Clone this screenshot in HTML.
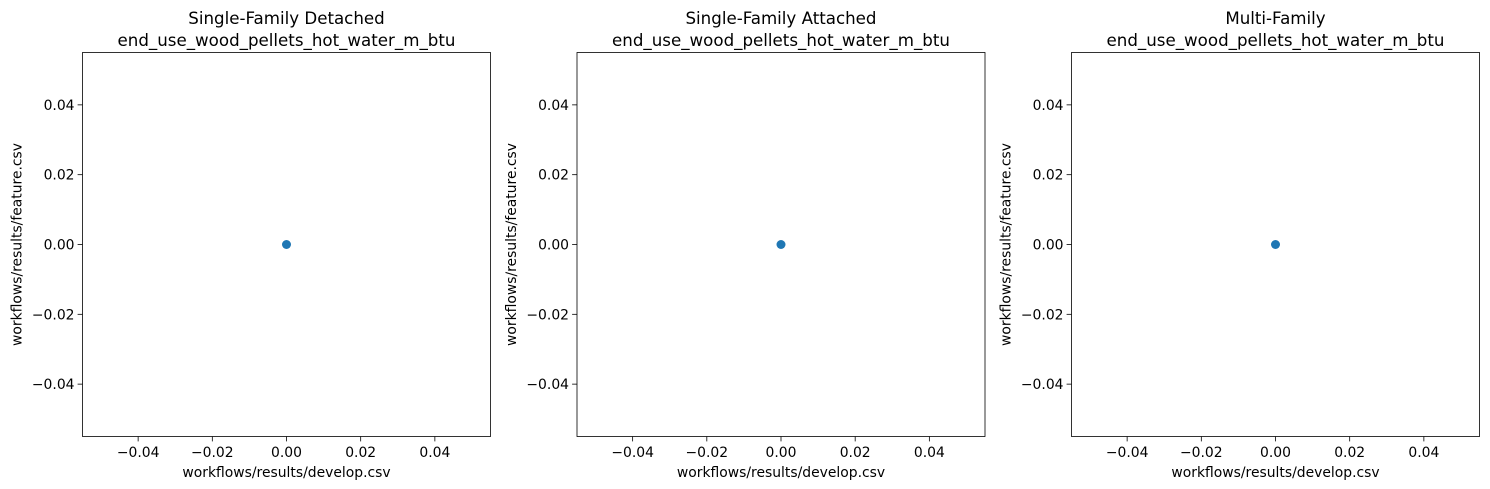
<!DOCTYPE html>
<html><head><meta charset="utf-8"><style>
html,body{margin:0;padding:0;background:#fff;}
svg{display:block;font-family:"DejaVu Sans","Liberation Sans",sans-serif;}
</style></head><body>
<svg id="chart" width="1490" height="489" xmlns="http://www.w3.org/2000/svg"></svg>
<script>
const panelTitles = ["Single-Family Detached","Single-Family Attached","Multi-Family"];
const metricName = "end_use_wood_pellets_hot_water_m_btu";
const xValues = [[0],[0],[0]];
const yValues = [[0],[0],[0]];
const xTicks = [-0.04,-0.02,0.00,0.02,0.04];
const yTicks = [-0.04,-0.02,0.00,0.02,0.04];
const xTickLabels = ["\u22120.04","\u22120.02","0.00","0.02","0.04"];
const yTickLabels = ["\u22120.04","\u22120.02","0.00","0.02","0.04"];
const xDomain = [-0.055,0.055];
const yDomain = [-0.055,0.055];

const NS="http://www.w3.org/2000/svg";
const svgRoot=document.getElementById('chart');
function mk(tag,attrs,parent){const e=document.createElementNS(NS,tag);for(const k in attrs)e.setAttribute(k,attrs[k]);parent.appendChild(e);return e;}
const lefts=[82.5,577,1071.5];
const W=408, plotTop=52.5, H=384;
panelTitles.forEach((t,i)=>{
  const L=lefts[i];
  const g=mk('g',{},svgRoot);
  
  
  const xs=v=>L+(v-xDomain[0])/(xDomain[1]-xDomain[0])*W;
  const ys=v=>plotTop+H-(v-yDomain[0])/(yDomain[1]-yDomain[0])*H;
  const t1=mk('text',{x:L+W/2,y:24,'text-anchor':'middle','font-size':16.67},g);t1.textContent=t;
  
  
  const t2=mk('text',{x:L+W/2,y:46,'text-anchor':'middle','font-size':16.67},g);t2.textContent=metricName;
  
  
  xTicks.forEach((v,j)=>{
    const x=xs(v);
    mk('line',{x1:x,x2:x,y1:plotTop+H,y2:plotTop+H+4.9,stroke:'#000','stroke-width':0.8},g);
    const tx=mk('text',{x:x,y:plotTop+H+20.5,'text-anchor':'middle','font-size':13.9},g);tx.textContent=xTickLabels[j];
    
    
  });
  yTicks.forEach((v,j)=>{
    const y=ys(v);
    mk('line',{x1:L-4.9,x2:L,y1:y,y2:y,stroke:'#000','stroke-width':0.8},g);
    const ty=mk('text',{x:L-8,y:y+5,'text-anchor':'end','font-size':13.9},g);ty.textContent=yTickLabels[j];
    
    
  });
  const xl=mk('text',{x:L+W/2,y:477,'text-anchor':'middle','font-size':13.9},g);xl.textContent="workflows/results/develop.csv";
  
  
  const yl=mk('text',{x:0,y:0,'text-anchor':'middle','font-size':13.9,transform:`translate(${L-61},${plotTop+H/2}) rotate(-90)`},g);yl.textContent="workflows/results/feature.csv";
  
  
  xValues[i].forEach((v,k)=>{
    const c=mk('circle',{cx:xs(v),cy:ys(yValues[i][k]),r:4.5,fill:'#1f77b4'},g);
    
    
  });
  const fr=mk('rect',{x:L,y:plotTop,width:W,height:H,fill:'none',stroke:'#000','stroke-width':0.8},g);
  
  
});
</script>
</body></html>
